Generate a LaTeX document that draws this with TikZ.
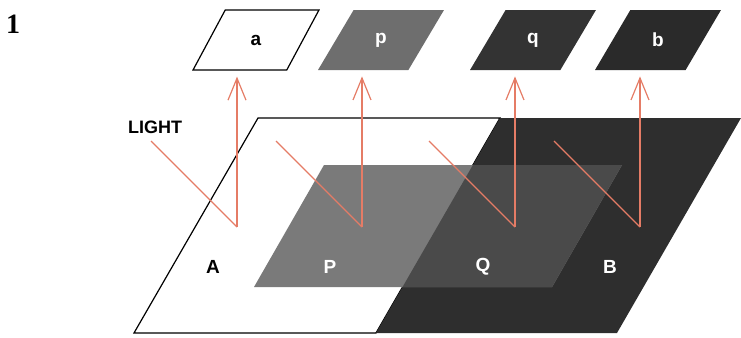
\documentclass[tikz,border=0pt]{standalone}
\usepackage{fontspec}
\setsansfont{Liberation Sans}
\newfontfamily\numfont{Liberation Serif}
\usetikzlibrary{positioning,arrows.meta,shapes.geometric}
\definecolor{raycol}{HTML}{E57C66}
\definecolor{pgray}{HTML}{7A7A7A}
\definecolor{qgray}{HTML}{4A4A4A}
\definecolor{bgray}{HTML}{2E2E2E}
\definecolor{smallp}{HTML}{6E6E6E}
\definecolor{smallq}{HTML}{333333}
\definecolor{smallb}{HTML}{2A2A2A}

\begin{document}
\begin{tikzpicture}[x=0.5pt, y=-0.5pt,
    film/.style={trapezium, trapezium left angle=62, trapezium right angle=118, trapezium stretches=true, minimum width=63pt, minimum height=30pt, inner sep=0pt, font=\sffamily\bfseries\fontsize{9.5}{11}\selectfont},
    lab/.style={font=\sffamily\bfseries\fontsize{9.5}{11}\selectfont},
    ray/.style={draw=raycol, line width=0.6pt},
    arrow/.style={ray, -{Straight Barb[length=11pt, width=9pt]}, shorten >=3pt},
]
\useasboundingbox (0,0) rectangle (741,338);
\node[font=\numfont\bfseries\fontsize{14}{16}\selectfont] (num) at (13,24) {1};

\node[film, draw=black, line width=0.6pt, fill=white] (a) at (256,40) {a};
\node[film, fill=smallp, text=white] (p) at (381,40) {p};
\node[film, fill=smallq, text=white] (q) at (533,40) {q};
\node[film, fill=smallb, text=white] (b) at (658,40) {b};

% big layers
\draw[fill=white, line width=0.6pt] (258,118) -- (500,118) -- (376,333) -- (134,333) -- cycle;
\fill[bgray] (500,118) -- (741,118) -- (617,333) -- (376,333) -- cycle;
\fill[pgray] (324,165) -- (622,165) -- (552,287) -- (254,287) -- cycle;
\begin{scope}
\clip (500,118) -- (741,118) -- (617,333) -- (376,333) -- cycle;
\fill[qgray] (324,165) -- (622,165) -- (552,287) -- (254,287) -- cycle;
\end{scope}

\node[lab] (A) at (213,267) {A};
\node[lab, white] (P) at (330,267) {P};
\node[lab, white] (Q) at (483,267) {Q};
\node[lab, white] (B) at (610,267) {B};
\node[lab, font=\sffamily\bfseries\fontsize{9}{11}\selectfont] (light) at (155,127) {LIGHT};

\coordinate (inA) at (151,141); \coordinate (hitA) at (237,227);
\coordinate (inP) at (276,141); \coordinate (hitP) at (362,227);
\coordinate (inQ) at (429,141); \coordinate (hitQ) at (515,227);
\coordinate (inB) at (554,141); \coordinate (hitB) at (640,227);
\draw[ray] (inA) -- (hitA); \draw[arrow] (hitA) -- (hitA |- a.south);
\draw[ray] (inP) -- (hitP); \draw[arrow] (hitP) -- (hitP |- p.south);
\draw[ray] (inQ) -- (hitQ); \draw[arrow] (hitQ) -- (hitQ |- q.south);
\draw[ray] (inB) -- (hitB); \draw[arrow] (hitB) -- (hitB |- b.south);
\end{tikzpicture}
\end{document}
